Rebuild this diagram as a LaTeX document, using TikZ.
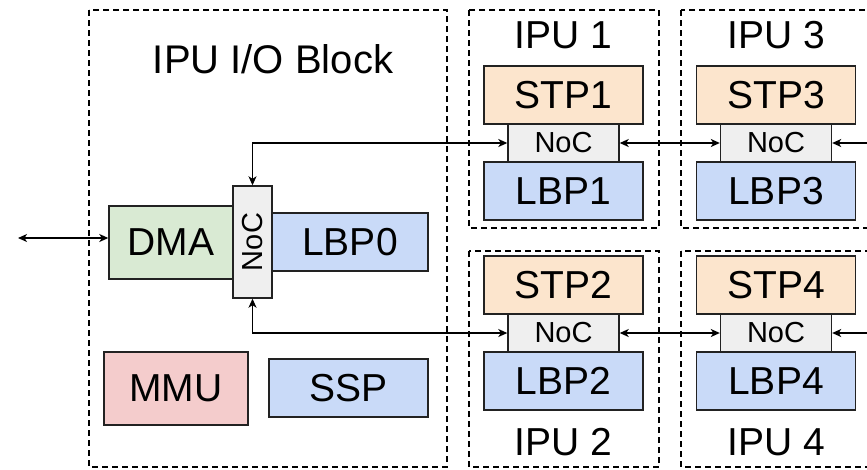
\documentclass[tikz,border=0pt]{standalone}
\usepackage{fontspec}
\setmainfont{Liberation Sans}
\usepackage{tikz}
\usetikzlibrary{shapes.geometric, arrows.meta}
\definecolor{stporange}{HTML}{FCE5CD}
\definecolor{lbpblue}{HTML}{C9DAF8}
\definecolor{dmagreen}{HTML}{D9EAD3}
\definecolor{mmured}{HTML}{F4CCCC}
\definecolor{nocgray}{HTML}{EFEFEF}
\definecolor{edgegray}{HTML}{222222}
\tikzstyle{unitbox} = [rectangle, 
inner sep=0pt,
minimum width=159pt, 
minimum height=58pt, 
text centered, 
line width=1.4pt,
font=\fontsize{39}{41}\selectfont,
draw=edgegray]
\tikzstyle{nocbox} = [unitbox, fill=nocgray,
minimum width=111pt, 
minimum height=38pt,
font=\fontsize{29}{31}\selectfont]
\tikzstyle{ipuframe} = [line width=1.3pt, dash pattern=on 6pt off 4pt]
\tikzstyle{ipulabel} = [anchor=base, inner sep=0pt, font=\fontsize{39}{41}\selectfont]
\tikzstyle{link} = [line width=1.3pt, {Stealth[length=9pt, width=8pt, inset=2.5pt]}-{Stealth[length=9pt, width=8pt, inset=2.5pt]}]
\tikzstyle{linkin} = [line width=1.3pt, -{Stealth[length=9pt, width=8pt, inset=2.5pt]}]

\begin{document}
\begin{tikzpicture}[x=1pt, y=-1pt, node distance=48pt]
		\useasboundingbox (0,0) rectangle (867,469);
		\clip (0,0) rectangle (867,469);
		
		% dashed frames
		\draw [ipuframe] (89,10) rectangle (447,467);
		\draw [ipuframe] (469,10) rectangle (659,228);
		\draw [ipuframe] (681,10) rectangle (880,228);
		\draw [ipuframe] (469,251) rectangle (659,467);
		\draw [ipuframe] (681,251) rectangle (880,467);
		
		\node (iotitle) [ipulabel, font=\fontsize{40}{42}\selectfont] at (273,73) {IPU I/O Block};
		\node (ipu1) [ipulabel] at (563,48) {IPU 1};
		\node (ipu3) [ipulabel] at (776,48) {IPU 3};
		\node (ipu2) [ipulabel] at (563,455) {IPU 2};
		\node (ipu4) [ipulabel] at (776,455) {IPU 4};
		
		% I/O block
		\node (dma) [unitbox, fill=dmagreen, minimum width=124pt, minimum height=73pt] at (171,242.5) {DMA};
		\node (lbp0) [unitbox, fill=lbpblue, minimum width=156pt] at (350,242) {LBP0};
		\node (ionoc) [nocbox, minimum width=39pt, minimum height=112pt] at (252.5,242) {\rotatebox{90}{NoC}};
		\node (mmu) [unitbox, fill=mmured, minimum width=144pt, minimum height=73pt] at (176,388.5) {MMU};
		\node (ssp) [unitbox, fill=lbpblue] at (348.5,388) {SSP};
		
		% IPUs
		\node (stp1) [unitbox, fill=stporange] at (563.5,95) {STP1};
		\node (noc1) [nocbox, below of=stp1] {NoC};
		\node (lbp1) [unitbox, fill=lbpblue, below of=noc1] {LBP1};
		
		\node (stp3) [unitbox, fill=stporange] at (776,95) {STP3};
		\node (noc3) [nocbox, below of=stp3] {NoC};
		\node (lbp3) [unitbox, fill=lbpblue, below of=noc3] {LBP3};
		
		\node (stp2) [unitbox, fill=stporange] at (563.5,285) {STP2};
		\node (noc2) [nocbox, below of=stp2] {NoC};
		\node (lbp2) [unitbox, fill=lbpblue, below of=noc2] {LBP2};
		
		\node (stp4) [unitbox, fill=stporange] at (776,285) {STP4};
		\node (noc4) [nocbox, below of=stp4] {NoC};
		\node (lbp4) [unitbox, fill=lbpblue, below of=noc4] {LBP4};
		
		\coordinate (ext) at (18,238);
		\coordinate (east3) at (867,143);
		\coordinate (east4) at (867,333);
		
		\draw [link] (ext) -- (ext -| dma.west);
		\draw [link] (ionoc.north) |- (noc1.west);
		\draw [link] (ionoc.south) |- (noc2.west);
		\draw [link] (noc1.east) -- (noc3.west);
		\draw [link] (noc2.east) -- (noc4.west);
		\draw [linkin] (east3) -- (noc3.east);
		\draw [linkin] (east4) -- (noc4.east);
	\end{tikzpicture}
\end{document}
